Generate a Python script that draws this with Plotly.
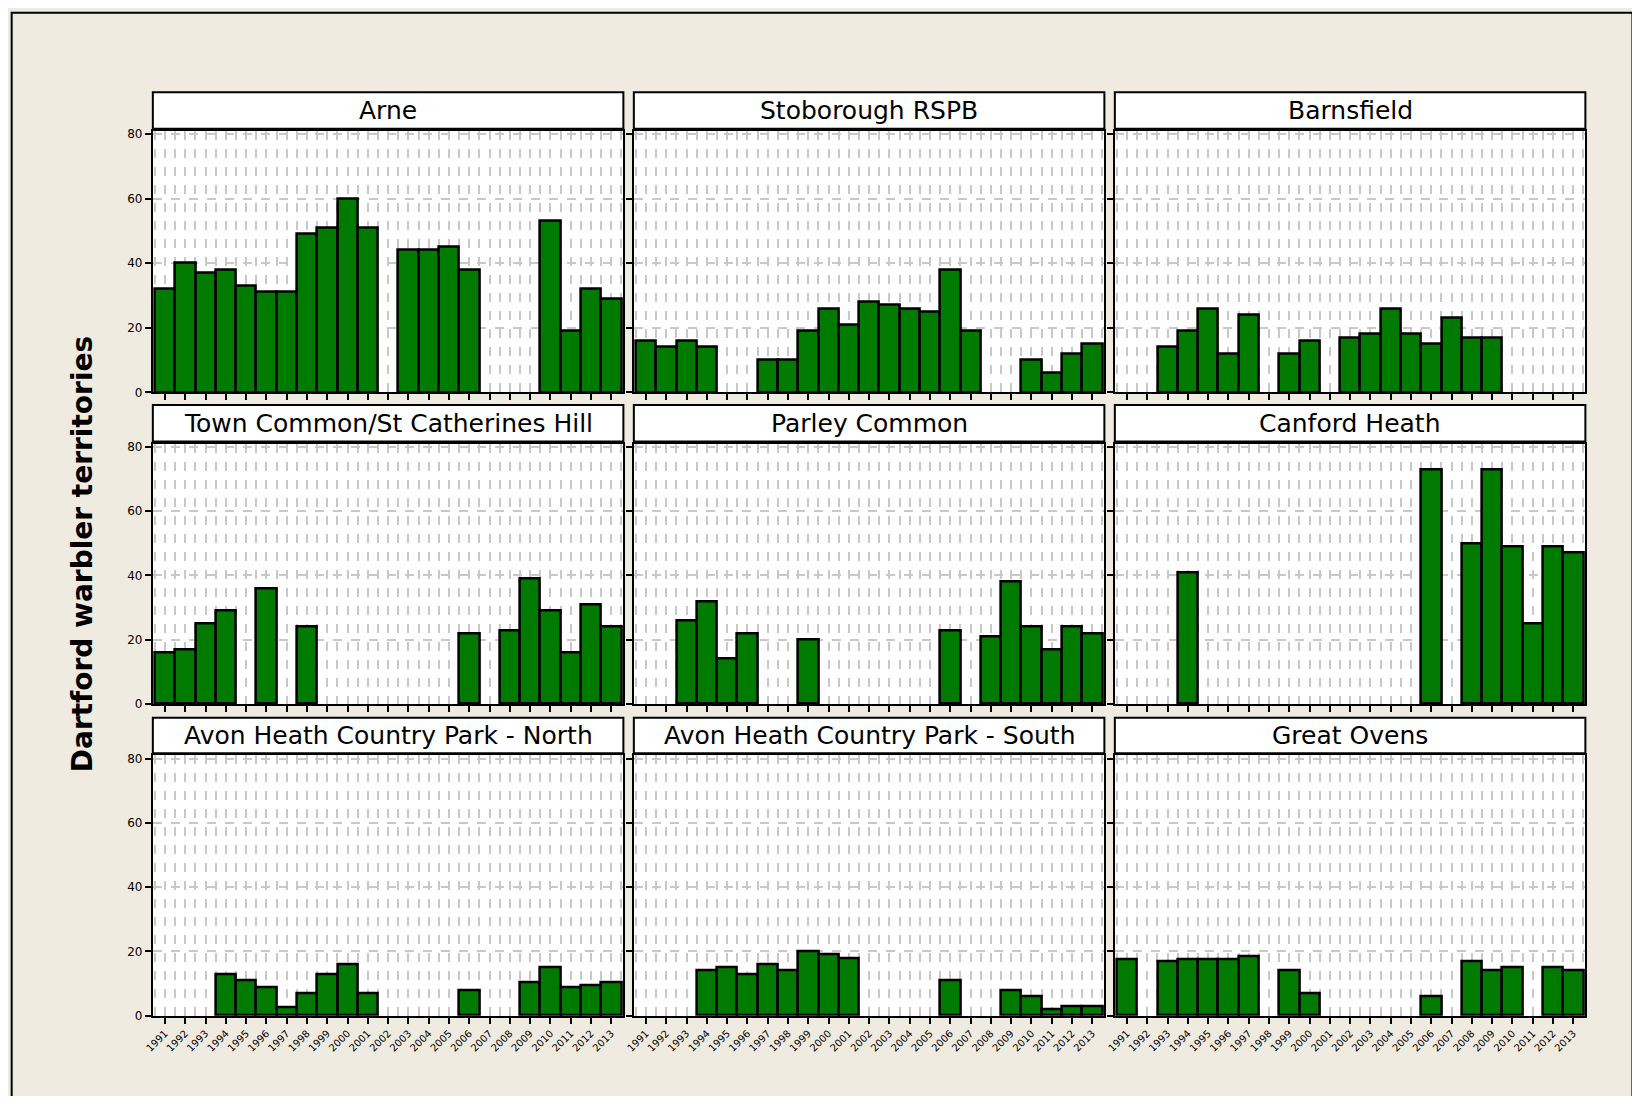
import plotly.graph_objects as go
from plotly.subplots import make_subplots

years = list(range(1991, 2014))

sites = ["Arne", "Stoborough RSPB", "Barnsfield",
         "Town Common/St Catherines Hill", "Parley Common", "Canford Heath",
         "Avon Heath Country Park - North", "Avon Heath Country Park - South", "Great Ovens"]

# territories per year 1991..2013, None = no survey
arne = [32, 40, 37, 38, 33, 31, 31, 49, 51, 60, 51, None, 44, 44, 45, 38, None, None, None, 53, 19, 32, 29]
stoborough = [16, 14, 16, 14, None, None, 10, 10, 19, 26, 21, 28, 27, 26, 25, 38, 19, None, None, 10, 6, 12, 15]
barnsfield = [None, None, 14, 19, 26, 12, 24, None, 12, 16, None, 17, 18, 26, 18, 15, 23, 17, 17, None, None, None, None]
town_common = [16, 17, 25, 29, None, 36, None, 24, None, None, None, None, None, None, None, 22, None, 23, 39, 29, 16, 31, 24]
parley = [None, None, 26, 32, 14, 22, None, None, 20, None, None, None, None, None, None, 23, None, 21, 38, 24, 17, 24, 22]
canford = [None, None, None, 41, None, None, None, None, None, None, None, None, None, None, None, 73, None, 50, 73, 49, 25, 49, 47]
avon_north = [None, None, None, 13, 11, 9, 2.5, 7, 13, 16, 7, None, None, None, None, 8, None, None, 10.5, 15, 9, 9.5, 10.5]
avon_south = [None, None, None, 14, 15, 13, 16, 14, 20, 19, 18, None, None, None, None, 11, None, None, 8, 6, 2, 3, 3]
great_ovens = [17.5, None, 17, 17.5, 17.5, 17.5, 18.5, None, 14, 7, None, None, None, None, None, 6, None, 17, 14, 15, None, 15, 14]

series = [arne, stoborough, barnsfield, town_common, parley, canford, avon_north, avon_south, great_ovens]

W, H = 1568.0, 1056.0


def px(x):
    return ((x - 15.1) / 0.985) / W


def py(y):
    return 1 - ((y - 11.4) / 0.975) / H


col_px = [(145, 595), (605, 1055), (1065, 1515)]
row_px = [(125, 375), (424, 673), (722, 971)]
strip_px = [(88, 123), (387, 422), (686, 720)]

fig = make_subplots(rows=3, cols=3)
shapes = []
annotations = []
for i, (name, vals) in enumerate(zip(sites, series)):
    r, c = i // 3, i % 3
    fig.add_trace(go.Bar(x=years, y=vals, marker=dict(color="#007a00", line=dict(color="black", width=2.5)),
                         width=1, showlegend=False), row=r + 1, col=c + 1)
    x0, x1 = px(col_px[c][0]), px(col_px[c][1])
    y0, y1 = py(row_px[r][1]), py(row_px[r][0])
    fig.update_xaxes(domain=[x0, x1], showticklabels=(r == 2), row=r + 1, col=c + 1)
    fig.update_yaxes(domain=[y0, y1], showticklabels=(c == 0), row=r + 1, col=c + 1)
    s0, s1 = py(strip_px[r][1]), py(strip_px[r][0])
    shapes.append(dict(type="rect", xref="paper", yref="paper", x0=x0, x1=x1, y0=s0, y1=s1,
                       fillcolor="white", line=dict(color="black", width=2)))
    annotations.append(dict(text=name, xref="paper", yref="paper", x=(x0 + x1) / 2, y=(s0 + s1) / 2,
                            xanchor="center", yanchor="middle", showarrow=False,
                            font=dict(size=25, color="black", family="DejaVu Sans")))

fig.update_xaxes(range=[1990.4, 2013.6], tickmode="array", tickvals=years, ticktext=[str(y) for y in years],
                 tickangle=-45, tickfont=dict(size=10, color="black"), ticks="outside", ticklen=6,
                 tickcolor="black", tickwidth=2, showgrid=True, gridcolor="#c8c8c8", griddash="dash", gridwidth=2,
                 minor=dict(dtick=0.5, showgrid=True, gridcolor="#c8c8c8", griddash="dash", gridwidth=2),
                 showline=True, linecolor="black", linewidth=2, mirror=True, zeroline=False)
fig.update_yaxes(range=[0, 81], tickvals=[0, 20, 40, 60, 80], tickfont=dict(size=12, color="black"),
                 ticks="outside", ticklen=6, tickcolor="black", tickwidth=2, showgrid=True, gridcolor="#c8c8c8",
                 griddash="dash", gridwidth=2, showline=True, linecolor="black", linewidth=2,
                 mirror=True, zeroline=False)

# outer frame
shapes.append(dict(type="rect", xref="paper", yref="paper", x0=px(10), x1=px(1560), y0=py(1052),
                   y1=py(12), line=dict(color="black", width=2), layer="below"))
annotations.append(dict(text="<b>Dartford warbler territories</b>", xref="paper", yref="paper",
                        x=px(78), y=py(530), xanchor="center", yanchor="middle", textangle=-90,
                        showarrow=False, font=dict(size=28, color="black", family="DejaVu Sans")))

fig.update_layout(paper_bgcolor="#efebe1", plot_bgcolor="white", bargap=0,
                  margin=dict(t=0, l=0, r=0, b=0), shapes=shapes, annotations=annotations,
                  font=dict(family="DejaVu Sans"))
fig.write_html("out.html")
